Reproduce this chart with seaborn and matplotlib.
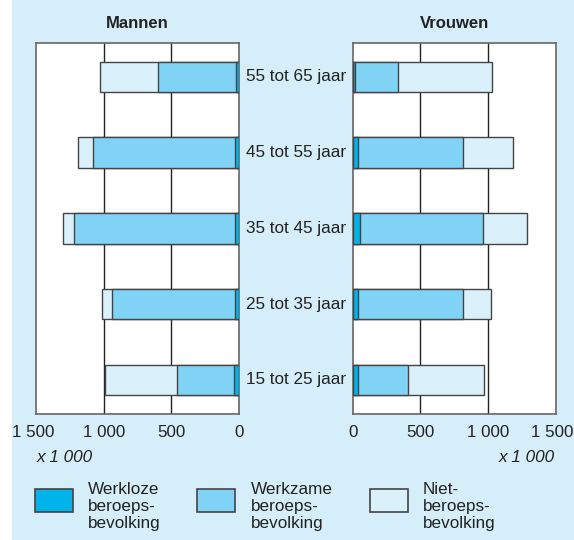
import matplotlib
matplotlib.use("Agg")
import matplotlib.pyplot as plt
import matplotlib.transforms as mtrans
from matplotlib.patches import Rectangle
import seaborn as sns
import pandas as pd

sns.set_theme(style="white")
plt.rcParams['font.family'] = ['Liberation Sans', 'DejaVu Sans']

ages = ["55 tot 65 jaar", "45 tot 55 jaar", "35 tot 45 jaar", "25 tot 35 jaar", "15 tot 25 jaar"]
men_werkloos = [25, 30, 30, 28, 37]
men_werkzaam = [573, 1049, 1188, 913, 424]
men_niet = [429, 110, 81, 69, 532]
women_werkloos = [20, 40, 54, 37, 41]
women_werkzaam = [312, 773, 904, 776, 369]
women_niet = [693, 371, 330, 209, 560]

ticks = [0, 500, 1000, 1500]
tick_labels = ["0", "500", "1 000", "1 500"]
legend_labels = ["Werkloze\nberoeps-\nbevolking", "Werkzame\nberoeps-\nbevolking", "Niet-\nberoeps-\nbevolking"]
titles = ["Mannen", "Vrouwen"]

BG = "#d5eef9"
C_LOOS = "#00b3ea"
C_ZAAM = "#80d3f5"
C_NIET = "#daf1fb"
EDGE = "#444444"

W, H = 574, 540
fig = plt.figure(figsize=(W / 100, H / 100), dpi=100, facecolor=BG)
fig.patches.append(Rectangle((0, 0), 12 / W, 1, transform=fig.transFigure,
                             facecolor="white", edgecolor="none", zorder=-1))

top, bottom = 42.7, 414
axL = fig.add_axes([36 / W, (H - bottom) / H, 203 / W, (bottom - top) / H])
axR = fig.add_axes([352.7 / W, (H - bottom) / H, 203.3 / W, (bottom - top) / H])


def draw(ax, loos, zaam, niet):
    df = pd.DataFrame({"age": ages,
                       "c1": loos,
                       "c2": [a + b for a, b in zip(loos, zaam)],
                       "c3": [a + b + c for a, b, c in zip(loos, zaam, niet)]})
    for col, c in [("c3", C_NIET), ("c2", C_ZAAM), ("c1", C_LOOS)]:
        sns.barplot(data=df, x=col, y="age", orient="h", color=c, saturation=1,
                    width=0.4, edgecolor=EDGE, linewidth=1.0, ax=ax, zorder=3)
    ax.set_facecolor("white")
    ax.set_ylim(4.45, -0.45)
    ax.set_yticks([])
    ax.set_ylabel("")
    ax.set_xlabel("")
    for v in (500, 1000):
        ax.axvline(v, color="#222222", linewidth=1.0, zorder=1)
    ax.set_xticks(ticks)
    ax.set_xticklabels(tick_labels, fontsize=12.2, color="#222222")
    ax.tick_params(axis="x", length=0, pad=8)
    for s in ax.spines.values():
        s.set_color("#666666")
        s.set_linewidth(1.2)


draw(axL, men_werkloos, men_werkzaam, men_niet)
axL.set_xlim(1500, 0)
draw(axR, women_werkloos, women_werkzaam, women_niet)
axR.set_xlim(0, 1500)

# nudge the outer "1 500" labels as in the reference
for ax, dx in ((axL, -3), (axR, -4)):
    lab = ax.get_xticklabels()[-1]
    lab.set_transform(lab.get_transform() +
                      mtrans.ScaledTranslation(dx / 100, 0, fig.dpi_scale_trans))

fig.text(137 / W, 1 - 24 / H, titles[0], ha="center", va="center",
         fontsize=12, fontweight="bold", color="#222222")
fig.text(455 / W, 1 - 24 / H, titles[1], ha="center", va="center",
         fontsize=12, fontweight="bold", color="#222222")

tr = mtrans.blended_transform_factory(fig.transFigure, axL.transData)
for i, a in enumerate(ages):
    axL.text(296 / W, i, a, transform=tr, ha="center", va="center",
             fontsize=12.3, color="#222222", clip_on=False)

fig.text(36.5 / W, 1 - 457 / H, "x 1 000", ha="left", va="center",
         fontsize=12.3, style="italic", color="#222222")
fig.text(555 / W, 1 - 457 / H, "x 1 000", ha="right", va="center",
         fontsize=12.3, style="italic", color="#222222")

boxes = [(35, C_LOOS, 88), (197.3, C_ZAAM, 250.7), (370, C_NIET, 423)]
for (bx, c, tx), lab in zip(boxes, legend_labels):
    fig.patches.append(Rectangle((bx / W, 1 - 512 / H), 38 / W, 23 / H,
                                 transform=fig.transFigure, facecolor=c,
                                 edgecolor=EDGE, linewidth=1.2))
    fig.text(tx / W, 1 - 506.5 / H, lab, ha="left", va="center", fontsize=12.3,
             color="#222222", linespacing=1.2)

fig.savefig("out.png", dpi=100, facecolor=BG)
